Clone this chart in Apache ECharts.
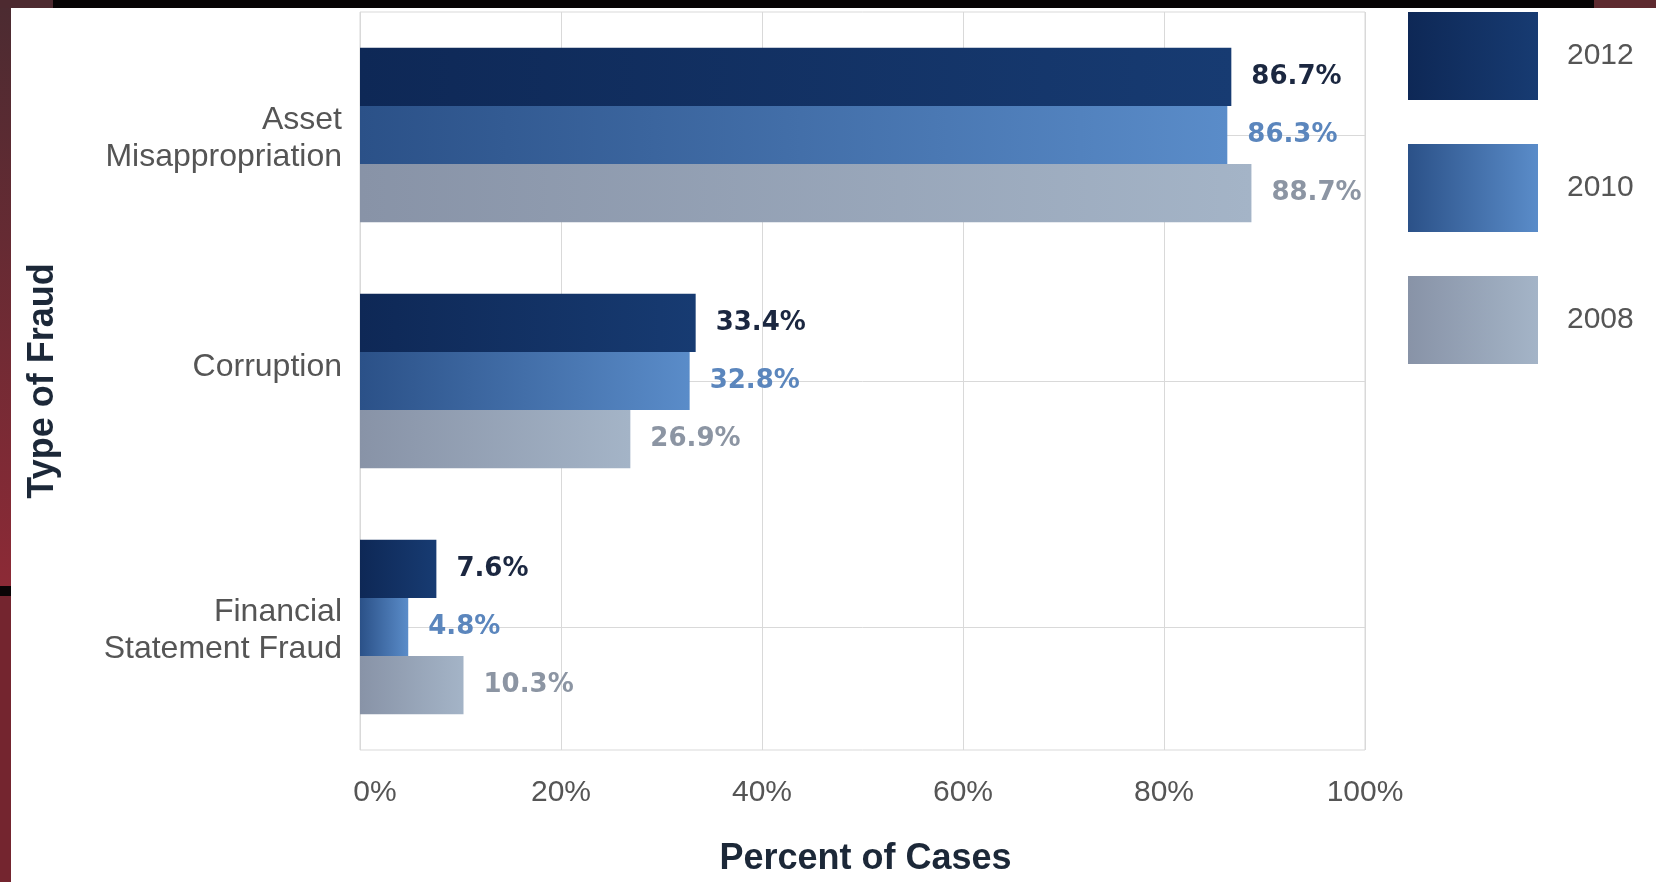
<!DOCTYPE html>
<html>
<head>
<meta charset="utf-8">
<title>Type of Fraud</title>
<script src="https://cdn.jsdelivr.net/npm/echarts@6/dist/echarts.min.js"></script>
<style>
  html, body { margin: 0; padding: 0; background: #ffffff; }
  #chart { width: 1656px; height: 882px; }
</style>
</head>
<body>
<div id="chart"></div>
<script>
// Fraud type shares by survey year
const categories = ['Asset\nMisappropriation', 'Corruption', 'Financial\nStatement Fraud'];
const years = ['2012', '2010', '2008'];
const values2012 = [86.7, 33.4, 7.6];
const values2010 = [86.3, 32.8, 4.8];
const values2008 = [88.7, 26.9, 10.3];
const percentMin = 0;
const percentMax = 100;
const percentStep = 20;

const chart = echarts.init(document.getElementById('chart'));

function grad(from, to) {
  return new echarts.graphic.LinearGradient(0, 0, 1, 0, [
    { offset: 0, color: from },
    { offset: 1, color: to }
  ]);
}

const seriesStyles = [
  { fill: grad('#0e2856', '#173b72'), label: '#1b2740' },
  { fill: grad('#2b5188', '#5a8cc9'), label: '#5b86bd' },
  { fill: grad('#8893a7', '#a4b4c7'), label: '#8c95a3' }
];
const seriesValues = [values2012, values2010, values2008];

const series = years.map((y, i) => ({
  name: y,
  type: 'bar',
  data: seriesValues[i],
  barGap: '0%',
  barCategoryGap: '29%',
  itemStyle: { color: seriesStyles[i].fill },
  label: {
    show: true,
    position: 'right',
    distance: 20,
    formatter: p => p.value.toFixed(1) + '%',
    fontFamily: 'DejaVu Sans',
    fontWeight: 'bold',
    fontSize: 26,
    color: seriesStyles[i].label
  }
}));

const catFont = { fontFamily: 'Liberation Sans', fontSize: 32, color: '#555555' };

chart.setOption({
  animation: false,
  backgroundColor: '#ffffff',
  graphic: [
    // slide frame: maroon strip on the left, black band on top
    { type: 'rect', left: 0, top: 0, shape: { width: 11, height: 586 },
      style: { fill: new echarts.graphic.LinearGradient(0, 0, 0, 1, [
        { offset: 0, color: '#4b2b31' }, { offset: 1, color: '#8c2a36' }]) } },
    { type: 'rect', left: 0, top: 586, shape: { width: 11, height: 10 }, style: { fill: '#0a0506' } },
    { type: 'rect', left: 0, top: 596, shape: { width: 11, height: 286 }, style: { fill: '#74252f' } },
    { type: 'rect', left: 0, top: 0, shape: { width: 1656, height: 8 }, style: { fill: '#070405' } },
    { type: 'rect', left: 0, top: 0, shape: { width: 53, height: 8 }, style: { fill: '#4d2a30' } },
    { type: 'rect', left: 1594, top: 0, shape: { width: 62, height: 8 }, style: { fill: '#5e2a2f' } }
  ],
  legend: {
    orient: 'vertical',
    left: 1408,
    top: 12,
    padding: 0,
    itemWidth: 130,
    itemHeight: 88,
    itemGap: 44,
    icon: 'rect',
    data: years,
    textStyle: {
      fontFamily: 'Liberation Sans',
      fontSize: 30,
      color: '#555555',
      padding: [0, 0, 0, 24]
    }
  },
  grid: {
    left: 360,
    right: 291,
    top: 12,
    bottom: 130,
    show: true,
    borderColor: '#d9d9d9',
    borderWidth: 1
  },
  xAxis: {
    type: 'value',
    min: percentMin,
    max: percentMax,
    interval: percentStep,
    name: 'Percent of Cases',
    nameLocation: 'middle',
    nameGap: 91,
    nameTextStyle: {
      fontFamily: 'Liberation Sans',
      fontWeight: 'bold',
      fontSize: 36,
      color: '#1c2838',
      padding: [0, 0, 0, 6]
    },
    axisLine: { show: false },
    axisTick: { show: false },
    axisLabel: {
      margin: 28,
      fontFamily: 'Liberation Sans',
      fontSize: 30,
      color: '#555555',
      formatter: v => v === 0 ? '{first|0%}' : v + '%',
      rich: {
        first: { padding: [0, 0, 0, 30], fontFamily: 'Liberation Sans', fontSize: 30, color: '#555555' }
      }
    },
    splitLine: { show: true, lineStyle: { color: '#d9d9d9', width: 1 } }
  },
  yAxis: {
    type: 'category',
    data: categories,
    inverse: true,
    name: 'Type of Fraud',
    nameLocation: 'middle',
    nameRotate: 90,
    nameGap: 299,
    nameTextStyle: {
      fontFamily: 'Liberation Sans',
      fontWeight: 'bold',
      fontSize: 36,
      color: '#1c2838'
    },
    axisLine: { show: false },
    axisTick: { show: false },
    axisLabel: {
      margin: 18,
      lineHeight: 37,
      padding: [8, 0, 0, 0],
      ...catFont,
      // the single-line label sits a little above its row centre
      formatter: v => v.indexOf('\n') < 0 ? '{up|' + v + '}' : v,
      rich: {
        up: { ...catFont, lineHeight: 37, padding: [0, 0, 36, 0] }
      }
    },
    splitLine: { show: true, alignWithLabel: true, lineStyle: { color: '#d9d9d9', width: 1 } }
  },
  series: series
});
</script>
</body>
</html>
